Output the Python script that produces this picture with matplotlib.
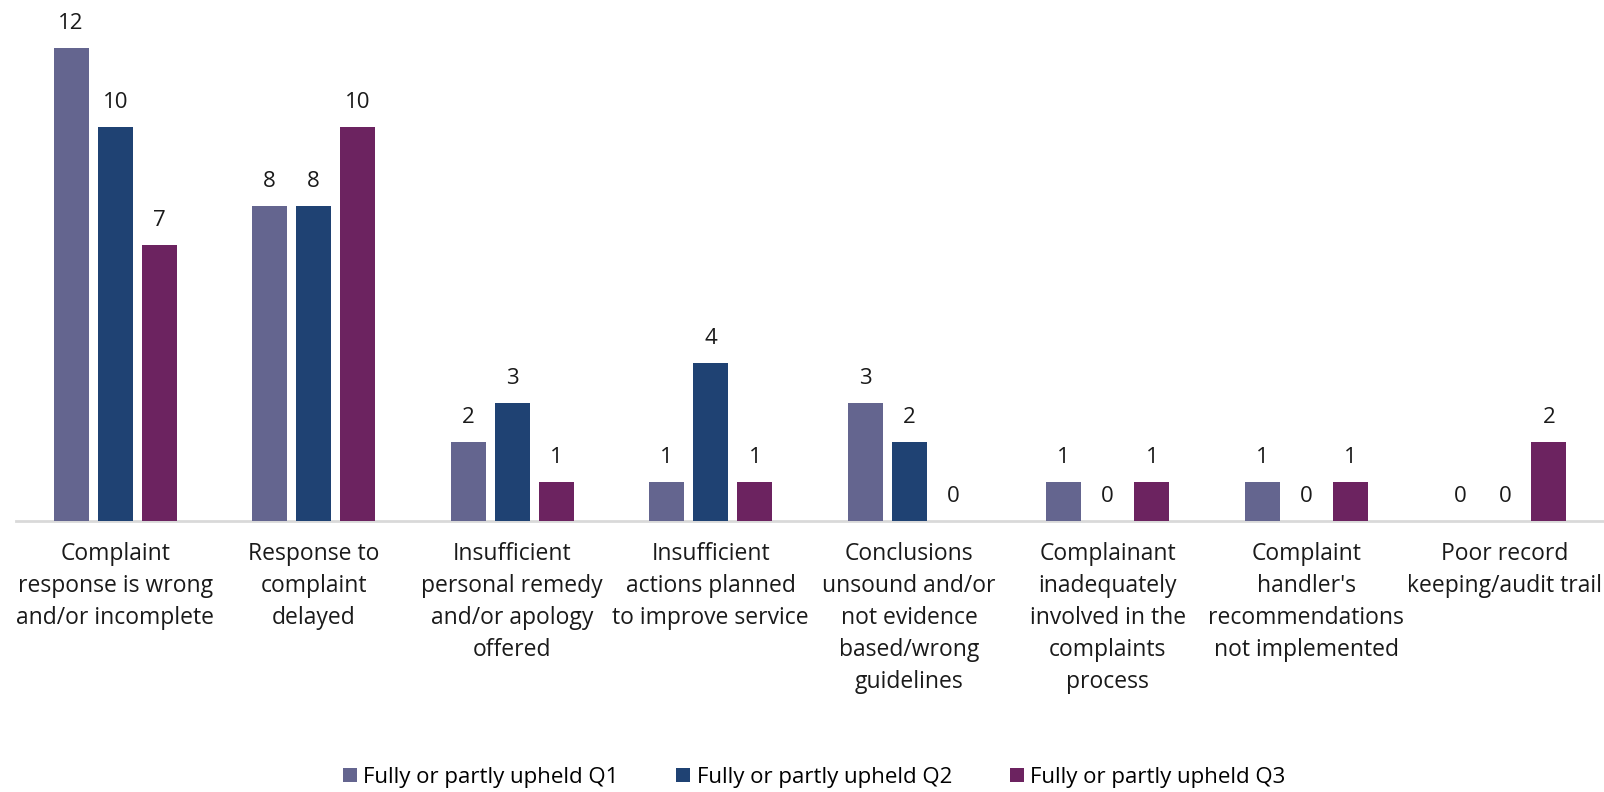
import numpy as np
import matplotlib.pyplot as plt

# --- Data: upheld complaints by reason and quarter ---
categories = [
    "Complaint\nresponse is wrong\nand/or incomplete",
    "Response to\ncomplaint\ndelayed",
    "Insufficient\npersonal remedy\nand/or apology\noffered",
    "Insufficient\nactions planned\nto improve service",
    "Conclusions\nunsound and/or\nnot evidence\nbased/wrong\nguidelines",
    "Complainant\ninadequately\ninvolved in the\ncomplaints\nprocess",
    "Complaint\nhandler's\nrecommendations\nnot implemented",
    "Poor record\nkeeping/audit trail",
]
q1_values = [12, 8, 2, 1, 3, 1, 1, 0]
q2_values = [10, 8, 3, 4, 2, 0, 0, 0]
q3_values = [7, 10, 1, 1, 0, 1, 1, 2]
series_names = ["Fully or partly upheld Q1", "Fully or partly upheld Q2", "Fully or partly upheld Q3"]

COLORS = ["#64658F", "#1F4273", "#6C2360"]
FONT = ["Open Sans", "DejaVu Sans"]

plt.rcParams["font.family"] = FONT

fig = plt.figure(figsize=(16.04, 7.92), dpi=100)
ax = fig.add_axes([16 / 1604, 271 / 792, 1588 / 1604, 521 / 792])

x = np.arange(len(categories))
bar_w = 0.176
offset = 0.222

for i, (vals, name) in enumerate(zip([q1_values, q2_values, q3_values], series_names)):
    bars = ax.bar(x + (i - 1) * offset, vals, width=bar_w, color=COLORS[i], label=name, zorder=3)
    # value labels above each bar
    for bar, v in zip(bars, vals):
        ax.annotate(
            f"{v}",
            xy=(bar.get_x() + bar.get_width() / 2, v),
            xytext=(0, 10), textcoords="offset points",
            ha="center", va="bottom", fontsize=16, color="#1a1a1a",
        )

ax.set_xlim(-0.5, len(categories) - 0.5)
ax.set_ylim(0, 13.22)

# only the baseline is kept
for side in ["top", "right", "left"]:
    ax.spines[side].set_visible(False)
ax.spines["bottom"].set_color("#D9D9D9")
ax.spines["bottom"].set_linewidth(2)
ax.set_yticks([])

ax.set_xticks(x)
ax.set_xticklabels(categories, fontsize=16.5, color="#1a1a1a", linespacing=1.45)
ax.tick_params(axis="x", length=0, pad=15)

fig.legend(
    loc="lower center", bbox_to_anchor=(0.5075, -0.02), ncol=3, frameon=False,
    fontsize=16, handlelength=0.63, handleheight=0.63, handletextpad=0.28,
    columnspacing=2.6,
)

plt.savefig("out.png", dpi=100)
plt.close()
